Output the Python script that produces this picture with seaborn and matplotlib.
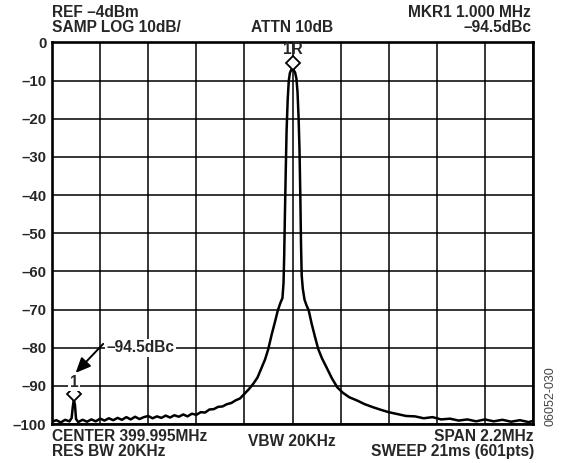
import matplotlib
matplotlib.use("Agg")
import matplotlib.pyplot as plt
import matplotlib.transforms as mtransforms
import seaborn as sns
import pandas as pd

# ---- data (offset from centre in kHz, level in dB) ----
FREQ_KHZ = [
    -1100, -1080, -1060, -1040, -1020, -1010, -1005, -1000, -995, -990,
    -980, -960, -940, -920, -900, -880, -860, -840, -820, -800,
    -780, -760, -740, -720, -700, -680, -660, -640, -620, -600,
    -580, -560, -540, -520, -500, -480, -460, -440, -420, -400,
    -380, -360, -340, -320, -300, -280, -260, -240, -220, -200,
    -180, -160, -141, -125, -111, -95, -80, -67, -55, -46,
    -41, -38, -35, -31, -27, -22, -17, -12, -6, 0,
    6, 12, 18, 23, 28, 32, 36, 39, 42, 47,
    55, 64, 74, 88, 103, 118, 135, 156, 180, 205,
    230, 260, 294, 330, 368, 400, 440, 480, 520, 560,
    600, 640, 680, 720, 760, 800, 840, 880, 920, 960,
    1000, 1040, 1080, 1100,
]
LEVEL_DB = [
    -99.4, -99.0, -99.6, -98.9, -99.3, -98.4, -95.5, -93.6, -95.0, -98.7,
    -99.5, -98.9, -99.4, -98.8, -99.3, -98.6, -99.1, -98.5, -99.0, -98.4,
    -98.9, -98.2, -98.8, -98.1, -98.7, -98.2, -97.9, -98.5, -98.0, -98.4,
    -97.8, -98.3, -97.7, -98.1, -97.5, -98.0, -97.3, -97.6, -96.9, -97.0,
    -96.2, -96.1, -95.5, -95.4, -94.8, -94.5, -93.8, -93.3, -92.1, -90.9,
    -89.5, -87.8, -85.2, -83.0, -80.4, -76.5, -73.2, -70.2, -68.2, -67.0,
    -63.0, -56.0, -46.0, -34.0, -23.0, -15.0, -10.0, -8.0, -7.2, -7.0,
    -7.3, -7.9, -9.5, -13.0, -20.0, -28.0, -41.0, -53.0, -61.0, -64.5,
    -67.4, -68.9, -70.2, -73.8, -77.2, -80.4, -82.8, -85.2, -88.0, -90.4,
    -91.8, -93.0, -93.8, -94.8, -95.6, -96.2, -96.9, -97.4, -97.9, -98.0,
    -98.5, -98.2, -98.8, -98.6, -99.1, -98.8, -99.3, -98.8, -99.3, -98.9,
    -99.4, -99.0, -99.5, -99.2,
]
Y_TICKS = [0, -10, -20, -30, -40, -50, -60, -70, -80, -90, -100]
Y_TICK_LABELS = ["0", "–10", "–20", "–30", "–40", "–50", "–60", "–70",
                 "–80", "–90", "–100"]
X_GRID_KHZ = [-1100, -880, -660, -440, -220, 0, 220, 440, 660, 880, 1100]
MARKERS_KHZ = [0, -1000]
MARKERS_DB = [-7.0, -93.6]
MARKER_LABELS = ["1R", "1"]

sns.set_style("white")
plt.rcParams["font.family"] = ["Liberation Sans", "DejaVu Sans"]
plt.rcParams["font.weight"] = "bold"

FS = 11.2
W, H = 567, 463
fig = plt.figure(figsize=(W / 100, H / 100), dpi=100)
L, R, T, B = 52, 533, 42.5, 424
ax = fig.add_axes([L / W, 1 - B / H, (R - L) / W, (B - T) / H])

df = pd.DataFrame({"f": FREQ_KHZ, "db": LEVEL_DB})
sns.lineplot(data=df, x="f", y="db", ax=ax, color="black", lw=1.8,
             sort=False, zorder=3)

ax.set_xlim(-1100, 1100)
ax.set_ylim(-100, 0)
ax.set_xticks(X_GRID_KHZ)
ax.set_xticklabels([])
ax.set_yticks(Y_TICKS)
ax.set_yticklabels(Y_TICK_LABELS, fontsize=10.8, fontweight="bold")
ax.tick_params(length=0, pad=4)
ax.grid(True, color="black", lw=1.1)
ax.set_xlabel("")
ax.set_ylabel("")
for s in ax.spines.values():
    s.set_linewidth(1.9)
    s.set_color("black")

# markers (diamond sits just above the trace point)
off = mtransforms.ScaledTranslation(0, 6 / 100, fig.dpi_scale_trans)
for fx, db in zip(MARKERS_KHZ, MARKERS_DB):
    ax.plot([fx], [db], marker="D", ms=7.5, mfc="white", mec="black", mew=1.3,
            transform=ax.transData + off, zorder=5, clip_on=False)

ax.text(MARKERS_KHZ[0], -1.9, MARKER_LABELS[0], ha="center", va="center",
        fontsize=FS, fontweight="bold", zorder=6)
ax.text(MARKERS_KHZ[1], -89.0, MARKER_LABELS[1], ha="center", va="center",
        fontsize=FS, fontweight="bold", zorder=6,
        bbox=dict(fc="white", ec="none", pad=1))
ax.text(-852, -80, "–94.5dBc", ha="left", va="center", fontsize=FS,
        fontweight="bold", zorder=6, bbox=dict(fc="white", ec="none", pad=1))
ax.annotate("", xy=(-992, -86.6), xytext=(-866, -79.0),
            arrowprops=dict(arrowstyle="-|>,head_length=0.9,head_width=0.4",
                            color="black", lw=1.4, shrinkA=0, shrinkB=0),
            zorder=6)

def ftext(x, y, s, ha="left", **kw):
    fig.text(x / W, 1 - y / H, s, ha=ha, va="center", fontsize=FS,
             fontweight="bold", **kw)

ftext(52, 12.5, "REF –4dBm")
ftext(52, 27.5, "SAMP LOG 10dB/")
ftext(292, 27.5, "ATTN 10dB", ha="center")
ftext(531, 12.5, "MKR1 1.000 MHz", ha="right")
ftext(531, 27.5, "–94.5dBc", ha="right")
ftext(52, 436.5, "CENTER 399.995MHz")
ftext(52, 451.5, "RES BW 20KHz")
ftext(292, 442, "VBW 20KHz", ha="center")
ftext(534, 436.5, "SPAN 2.2MHz", ha="right")
ftext(534, 451.5, "SWEEP 21ms (601pts)", ha="right")
fig.text(550 / W, 1 - 426 / H, "06052-030", rotation=90, ha="center",
         va="bottom", fontsize=9, fontweight="normal", color="#444444")

fig.savefig("out.png", dpi=100)
